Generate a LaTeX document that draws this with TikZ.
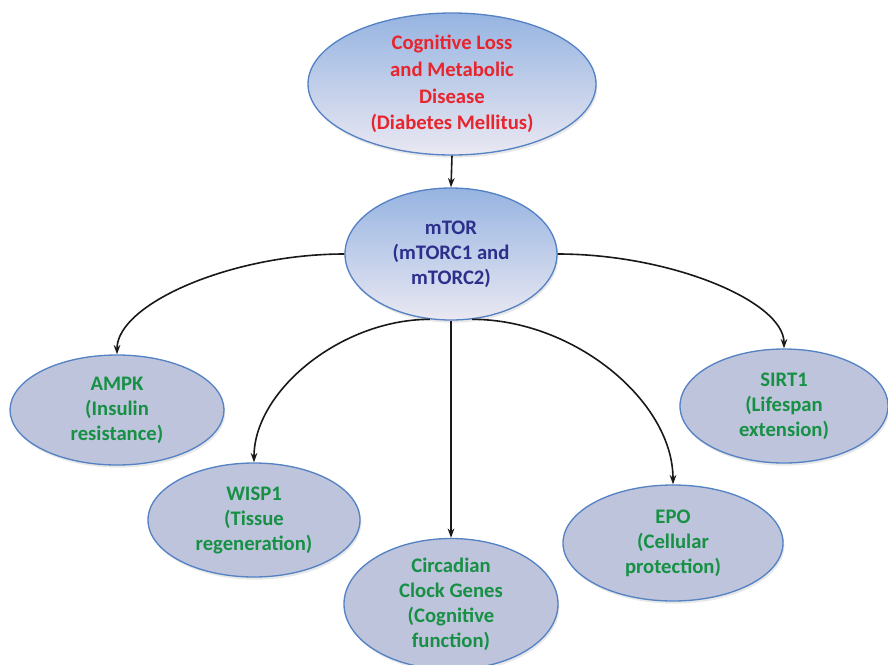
\documentclass[tikz,border=0pt]{standalone}
\usepackage{fontspec}
\setmainfont{Carlito}
\usetikzlibrary{arrows.meta,shapes.geometric,shadows}
\definecolor{edgeblue}{RGB}{84,130,196}
\definecolor{topblue}{RGB}{150,180,225}
\definecolor{botgray}{RGB}{234,232,242}
\definecolor{lav}{RGB}{190,196,219}
\definecolor{txtred}{RGB}{232,36,44}
\definecolor{txtnavy}{RGB}{44,48,140}
\definecolor{txtgreen}{RGB}{22,144,68}
\definecolor{linegray}{RGB}{25,25,25}
\tikzset{
  oval/.style={ellipse, draw=edgeblue, line width=1pt, inner sep=0pt, align=center,
    drop shadow={opacity=0.18, shadow xshift=1pt, shadow yshift=-2pt}},
  upoval/.style={oval, top color=topblue, bottom color=botgray},
  lowoval/.style={oval, fill=lav, text=txtgreen},
  bigfont/.style={font=\fontsize{15.5}{20}\selectfont\bfseries},
  smallfont/.style={font=\fontsize{15.5}{18.75}\selectfont\bfseries},
  conn/.style={draw=linegray, line width=1.2pt, -{Stealth[length=7pt,width=5pt]}}
}
\begin{document}
\begin{tikzpicture}[x=0.75pt,y=-0.75pt]
\useasboundingbox (0,0) rectangle (888,664);
\node[upoval, bigfont, text=txtred, minimum width=216pt, minimum height=106.5pt] (top) at (452,84)
  {Cognitive Loss\\and Metabolic\\Disease\\(Diabetes Mellitus)};
\node[upoval, smallfont, text=txtnavy, minimum width=159pt, minimum height=99pt] (mtor) at (451,254)
  {mTOR\\(mTORC1 and\\mTORC2)};
\node[lowoval, smallfont, minimum width=160.5pt, minimum height=82.5pt] (ampk) at (117,410)
  {AMPK\\(Insulin\\resistance)};
\node[lowoval, smallfont, minimum width=159pt, minimum height=85.5pt] (wisp) at (254,520)
  {WISP1\\(Tissue\\regeneration)};
\node[lowoval, smallfont, minimum width=160.5pt, minimum height=88.5pt] (circ) at (451,604)
  {Circadian\\Clock Genes\\(Cognitive\\function)};
\node[lowoval, smallfont, minimum width=165pt, minimum height=87pt] (epo) at (673,543)
  {EPO\\(Cellular\\protection)};
\node[lowoval, smallfont, minimum width=156pt, minimum height=85.5pt] (sirt) at (784,406)
  {SIRT1\\(Lifespan\\extension)};
\draw[conn] (top.south) -- (mtor.north);
\draw[conn] (mtor.south) -- (circ.north);
\draw[conn] (mtor.west) .. controls +(-114,0) and +(0,-50) .. (ampk.north);
\draw[conn] (mtor.252) .. controls +(-88,0) and +(0,-72) .. (wisp.north);
\draw[conn] (mtor.288) .. controls +(102,0) and +(0,-83) .. (epo.north);
\draw[conn] (mtor.east) .. controls +(113,0) and +(0,-47) .. (sirt.north);
\end{tikzpicture}
\end{document}
